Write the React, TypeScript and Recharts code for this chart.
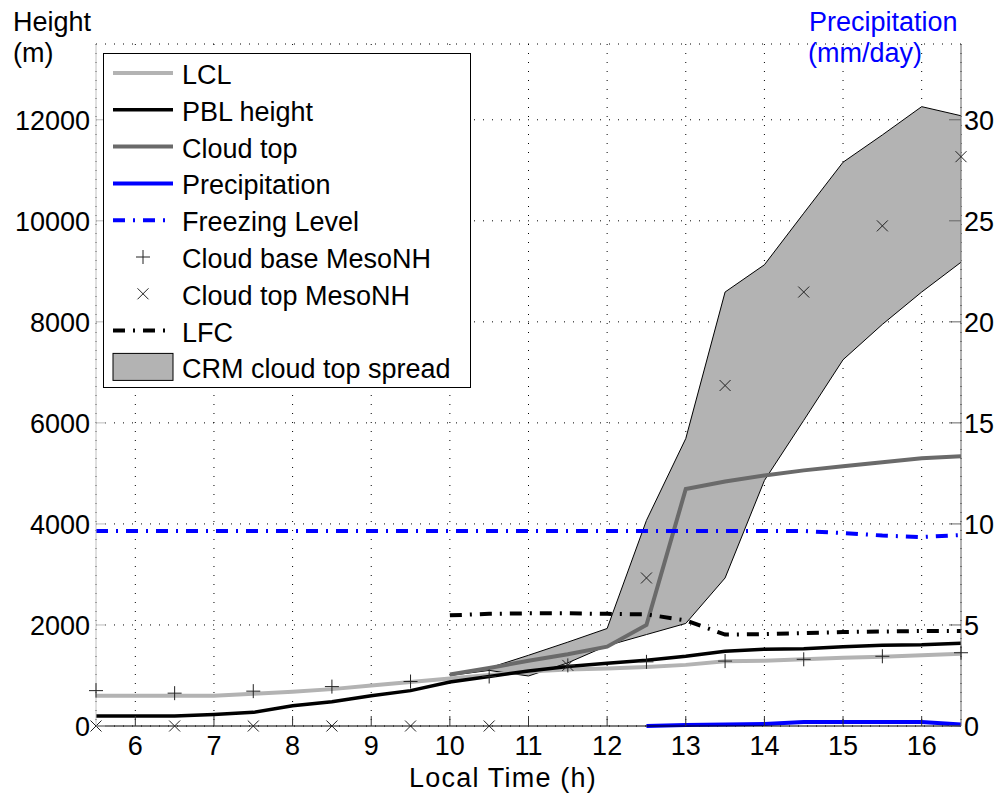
import React from 'react';
import { ComposedChart, Line, Area, XAxis, YAxis, CartesianGrid, Legend, Customized } from 'recharts';

const FONT = '"Liberation Sans", Arial, Helvetica, sans-serif';
const FS = 27;

// local time (h), every half hour
const hours = [5.5, 6, 6.5, 7, 7.5, 8, 8.5, 9, 9.5, 10, 10.5, 11, 11.5, 12, 12.5, 13, 13.5, 14, 14.5, 15, 15.5, 16, 16.5];

// heights in m
const lcl = [600, 600, 600, 600, 640, 680, 730, 800, 870, 940, 1010, 1080, 1120, 1140, 1170, 1210, 1280, 1290, 1320, 1350, 1370, 1400, 1430];
const pblHeight = [200, 200, 200, 230, 270, 400, 480, 600, 700, 870, 980, 1090, 1180, 1240, 1300, 1380, 1480, 1520, 1530, 1570, 1600, 1610, 1640];
const cloudTop = [null, null, null, null, null, null, null, null, null, 1020, 1150, 1290, 1420, 1570, 2000, 4690, 4840, 4960, 5060, 5140, 5220, 5300, 5340];
const freezingLevel = [3860, 3860, 3860, 3860, 3860, 3860, 3860, 3860, 3860, 3860, 3860, 3860, 3860, 3860, 3860, 3860, 3860, 3860, 3860, 3820, 3770, 3740, 3780];
const lfc = [null, null, null, null, null, null, null, null, null, 2190, 2220, 2230, 2230, 2220, 2210, 2090, 1810, 1820, 1840, 1860, 1870, 1880, 1880];
const spreadLow = [null, null, null, null, null, null, null, null, null, 1000, 1100, 990, 1250, 1590, 1810, 2030, 2930, 4860, 6050, 7250, 7950, 8590, 9180];
const spreadHigh = [null, null, null, null, null, null, null, null, null, 1000, 1150, 1400, 1660, 1930, 4070, 5690, 8590, 9130, 10150, 11160, 11700, 12260, 12080];

// precipitation in mm/day (right axis)
const precipitation = [null, null, null, null, null, null, null, null, null, null, null, null, null, null, 0, 0.05, 0.08, 0.1, 0.2, 0.2, 0.2, 0.2, 0.08];

// MesoNH output, hourly at the half hour
const mesoHours = [5.5, 6.5, 7.5, 8.5, 9.5, 10.5, 11.5, 12.5, 13.5, 14.5, 15.5, 16.5];
const mesoCloudBase = [700, 650, 690, 780, 880, 980, 1200, 1270, 1285, 1320, 1380, 1450];
const mesoCloudTop = [0, 0, 0, 0, 0, 0, 1200, 2930, 6740, 8590, 9900, 11270];

const xTicks = [6, 7, 8, 9, 10, 11, 12, 13, 14, 15, 16];
const heightTicks = [0, 2000, 4000, 6000, 8000, 10000, 12000];
const precipTicks = [0, 5, 10, 15, 20, 25, 30];

const rows = hours.map((t, i) => {
  const m = mesoHours.indexOf(t);
  return {
    t,
    lcl: lcl[i],
    pbl: pblHeight[i],
    cloudTop: cloudTop[i],
    freezing: freezingLevel[i],
    lfc: lfc[i],
    precip: precipitation[i],
    spread: spreadLow[i] != null && spreadHigh[i] != null ? [spreadLow[i], spreadHigh[i]] : null,
    cbase: m >= 0 ? mesoCloudBase[m] : null,
    ctop: m >= 0 ? mesoCloudTop[m] : null,
  };
});

const GRAY_LIGHT = '#b3b3b3';
const GRAY_DARK = '#6a6a6a';
const BLUE = '#0000ff';
const DASHDOT = '12 8 2 8';

const PlusMark = ({ cx, cy, s = 7 }: any) => (
  <g stroke="#222" strokeWidth={1}>
    <line x1={cx - s} x2={cx + s} y1={cy} y2={cy} />
    <line x1={cx} x2={cx} y1={cy - s} y2={cy + s} />
  </g>
);

const CrossMark = ({ cx, cy, s = 5.5 }: any) => (
  <g stroke="#222" strokeWidth={1}>
    <line x1={cx - s} x2={cx + s} y1={cy - s} y2={cy + s} />
    <line x1={cx - s} x2={cx + s} y1={cy + s} y2={cy - s} />
  </g>
);

const plusDot = (p: any) => {
  if (p.cy == null || p.value == null || Number.isNaN(p.cy)) return <g key={`p${p.index}`} />;
  return <PlusMark key={`p${p.index}`} cx={p.cx} cy={p.cy} />;
};

const crossDot = (p: any) => {
  if (p.cy == null || p.value == null || Number.isNaN(p.cy)) return <g key={`x${p.index}`} />;
  return <CrossMark key={`x${p.index}`} cx={p.cx} cy={p.cy} />;
};

const BottomTick = ({ x, y, payload }: any) => (
  <g>
    <line x1={x} x2={x} y1={y} y2={y - 10} stroke="#333" />
    <text x={x} y={y + 29} textAnchor="middle" fontSize={FS} fontFamily={FONT} fill="#000">
      {payload.value}
    </text>
  </g>
);

const LeftTick = ({ x, y, payload }: any) => (
  <g>
    <line x1={x} x2={x + 10} y1={y} y2={y} stroke="#bbb" />
    <text x={x - 6} y={y + 10} textAnchor="end" fontSize={FS} fontFamily={FONT} fill="#000">
      {payload.value}
    </text>
  </g>
);

const RightTick = ({ x, y, payload }: any) => (
  <g>
    <line x1={x} x2={x - 12} y1={y} y2={y} stroke="#666" />
    <text x={x + 3} y={y + 10} textAnchor="start" fontSize={FS} fontFamily={FONT} fill="#000">
      {payload.value}
    </text>
  </g>
);

const legendItems = [
  { label: 'LCL', kind: 'line', color: GRAY_LIGHT, width: 4 },
  { label: 'PBL height', kind: 'line', color: '#000', width: 3.5 },
  { label: 'Cloud top', kind: 'line', color: GRAY_DARK, width: 4 },
  { label: 'Precipitation', kind: 'line', color: BLUE, width: 4 },
  { label: 'Freezing Level', kind: 'line', color: BLUE, width: 4, dash: DASHDOT },
  { label: 'Cloud base MesoNH', kind: 'plus' },
  { label: 'Cloud top MesoNH', kind: 'cross' },
  { label: 'LFC', kind: 'line', color: '#000', width: 4, dash: DASHDOT },
  { label: 'CRM cloud top spread', kind: 'patch' },
];

const LegendBox = () => (
  <svg width={369} height={336} style={{ display: 'block' }}>
    <rect x={0.5} y={0.5} width={367} height={334} fill="#fff" stroke="#000" strokeWidth={1} />
    {legendItems.map((it, i) => {
      const cy = 20 + i * 36.8;
      let mark = null;
      if (it.kind === 'line') {
        mark = <line x1={10} x2={70} y1={cy} y2={cy} stroke={it.color} strokeWidth={it.width} strokeDasharray={it.dash} />;
      } else if (it.kind === 'plus') {
        mark = <PlusMark cx={40} cy={cy} />;
      } else if (it.kind === 'cross') {
        mark = <CrossMark cx={40} cy={cy} />;
      } else {
        mark = <rect x={10} y={cy - 14} width={60} height={27} fill={GRAY_LIGHT} stroke="#000" strokeWidth={1} />;
      }
      return (
        <g key={it.label}>
          {mark}
          <text x={79} y={cy + 11} fontSize={FS} fontFamily={FONT} fill="#000">
            {it.label}
          </text>
        </g>
      );
    })}
  </svg>
);

const Titles = () => (
  <g fontFamily={FONT} fontSize={FS}>
    <text x={13} y={31} fill="#000">Height</text>
    <text x={13} y={62} fill="#000">(m)</text>
    <text x={809} y={31} fill={BLUE}>Precipitation</text>
    <text x={808} y={62} fill={BLUE}>(mm/day)</text>
    <text x={503} y={787} textAnchor="middle" fill="#000" letterSpacing={1.2}>Local Time (h)</text>
  </g>
);

export default function App() {
  return (
    <div style={{ position: 'absolute', left: 0, top: 0, width: 1001, height: 799, background: '#fff' }}>
      <ComposedChart width={1001} height={799} data={rows} margin={{ top: 44, right: 0, bottom: 0, left: 0 }}>
        <CartesianGrid yAxisId="left" stroke="#000" strokeWidth={1} strokeDasharray="1 8" />
        <XAxis
          dataKey="t"
          type="number"
          domain={[5.5, 16.5]}
          ticks={xTicks}
          height={73}
          tickSize={0}
          tickMargin={0}
          tick={<BottomTick />}
          axisLine={{ stroke: '#000' }}
          tickLine={false}
          interval={0}
        />
        <YAxis
          yAxisId="left"
          domain={[0, 13500]}
          ticks={heightTicks}
          width={96}
          tickSize={0}
          tickMargin={0}
          tick={<LeftTick />}
          axisLine={{ stroke: '#c0c0c0' }}
          tickLine={false}
          interval={0}
        />
        <YAxis
          yAxisId="right"
          orientation="right"
          domain={[0, 33.75]}
          ticks={precipTicks}
          width={40}
          tickSize={0}
          tickMargin={0}
          tick={<RightTick />}
          axisLine={{ stroke: '#666' }}
          tickLine={false}
          interval={0}
        />
        <Area
          yAxisId="left"
          type="linear"
          dataKey="spread"
          fill={GRAY_LIGHT}
          fillOpacity={1}
          stroke="#000"
          strokeWidth={1}
          isAnimationActive={false}
          activeDot={false}
        />
        <Line yAxisId="left" type="linear" dataKey="lcl" stroke={GRAY_LIGHT} strokeWidth={4} dot={false} isAnimationActive={false} />
        <Line yAxisId="left" type="linear" dataKey="pbl" stroke="#000" strokeWidth={3.5} dot={false} isAnimationActive={false} />
        <Line yAxisId="left" type="linear" dataKey="cloudTop" stroke={GRAY_DARK} strokeWidth={4} dot={false} isAnimationActive={false} />
        <Line yAxisId="right" type="linear" dataKey="precip" stroke={BLUE} strokeWidth={4} dot={false} isAnimationActive={false} />
        <Line yAxisId="left" type="linear" dataKey="freezing" stroke={BLUE} strokeWidth={4} strokeDasharray={DASHDOT} dot={false} isAnimationActive={false} />
        <Line yAxisId="left" type="linear" dataKey="cbase" stroke="none" dot={plusDot} activeDot={false} isAnimationActive={false} />
        <Line yAxisId="left" type="linear" dataKey="ctop" stroke="none" dot={crossDot} activeDot={false} isAnimationActive={false} />
        <Line yAxisId="left" type="linear" dataKey="lfc" stroke="#000" strokeWidth={4} strokeDasharray={DASHDOT} dot={false} isAnimationActive={false} />
        <Legend
          layout="vertical"
          align="center"
          verticalAlign="middle"
          content={() => <LegendBox />}
          wrapperStyle={{ position: 'absolute', left: 103, top: 53, width: 369, height: 336 }}
        />
        <Customized component={Titles} />
      </ComposedChart>
    </div>
  );
}
